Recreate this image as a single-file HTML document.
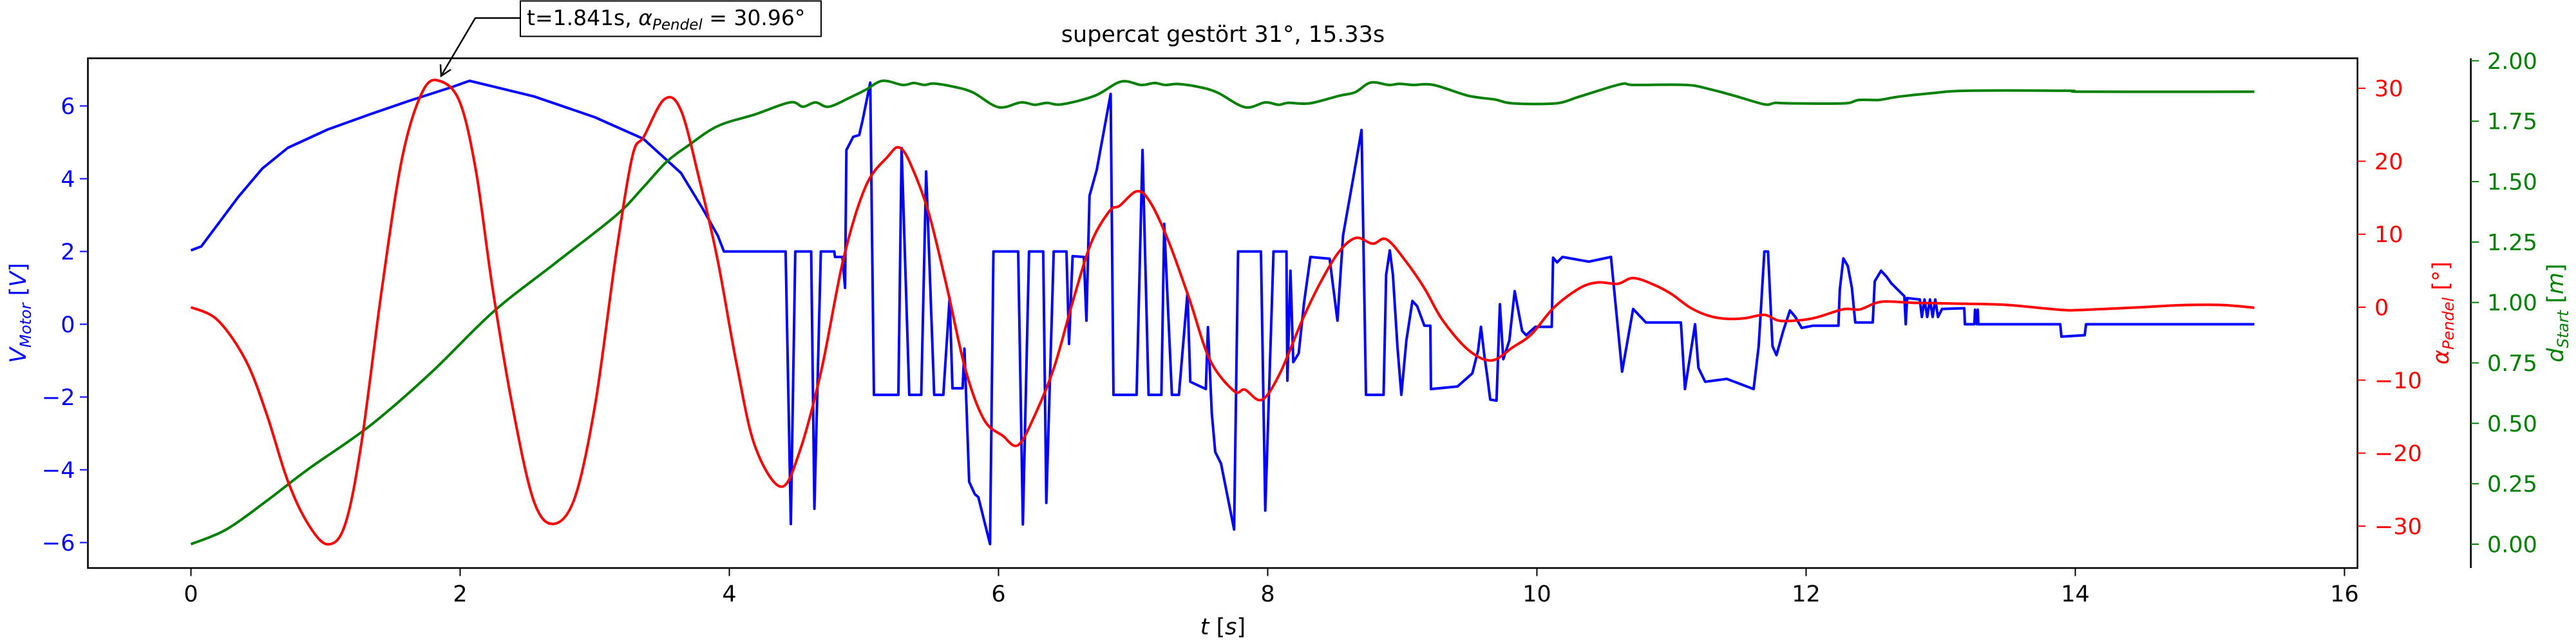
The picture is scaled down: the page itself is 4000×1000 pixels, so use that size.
<!DOCTYPE html>
<html><head><meta charset="utf-8">
<style>
html,body{margin:0;padding:0;background:#fff;}
svg{display:block;}
text{font-family:"DejaVu Sans","Liberation Sans",sans-serif;}
</style></head>
<body>
<svg id="chart" width="4000" height="1000" viewBox="0 0 4000 1000" xmlns="http://www.w3.org/2000/svg">
<rect x="0" y="0" width="4000" height="1000" fill="#fff"/>
<text x="1899" y="65" font-size="35" text-anchor="middle">supercat gestört 31°, 15.33s</text>
<g id="plot"></g>
<g id="axes"></g>
</svg>
<script>
// ---- data ----
const blueT = [
 0,0.077,0.168,0.35,0.53,0.72,1.02,1.33,1.63,1.94,2.07,2.55,3.0,3.36,3.64,3.805,3.915,3.96,
 4.418,4.457,4.49,4.608,4.632,4.68,4.78,4.785,4.84,4.86,4.87,4.92,4.965,4.99,5.047,5.074,
 5.256,5.28,5.337,5.426,5.462,5.522,5.59,5.637,5.658,5.733,5.747,5.782,5.824,5.85,5.937,5.962,
 6.146,6.181,6.227,6.332,6.355,6.41,6.505,6.524,6.55,6.634,6.653,6.676,6.73,6.833,6.854,
 7.026,7.07,7.115,7.21,7.231,7.288,7.34,7.404,7.425,7.54,7.556,7.584,7.61,7.653,7.75,7.78,
 7.95,7.982,8.043,8.139,8.146,8.169,8.19,8.23,8.27,8.317,8.46,8.518,8.56,8.642,8.697,8.73,
 8.861,8.88,8.907,8.93,8.964,8.993,9.03,9.075,9.11,9.164,9.208,9.213,9.41,9.52,9.563,9.584,9.61,9.63,9.653,9.7,9.725,9.75,9.795,9.835,9.89,9.92,9.988,
 10.11,10.12,10.15,10.19,10.385,10.55,10.633,10.715,10.81,11.07,11.1,11.175,11.2,11.25,11.41,11.61,11.648,11.69,11.717,11.75,11.78,11.83,11.88,11.92,11.967,12.05,12.24,
 12.25,12.277,12.31,12.34,12.365,12.495,12.51,12.557,12.6,12.632,12.73,12.74,12.75,12.845,12.86,12.88,12.9,12.92,12.94,12.96,12.98,13.01,13.175,13.18,13.25,13.255,13.27,13.275,13.28,13.888,13.897,14.07,14.08,15.33];
const blueV = [
 2.03,2.14,2.59,3.49,4.28,4.85,5.36,5.77,6.15,6.52,6.69,6.26,5.69,5.1,4.16,3.16,2.43,2.0,
 2.0,-5.49,2.0,2.0,-5.07,2.0,2.0,1.85,1.85,1.0,4.79,5.15,5.2,5.6,6.64,-1.94,
 -1.94,4.84,-1.94,-1.94,4.2,-1.94,-1.94,0.73,-1.76,-1.76,-0.67,-4.33,-4.67,-4.75,-6.04,2.0,
 2.0,-5.5,2.0,2.0,-4.91,2.0,2.0,-0.54,1.87,1.85,0.1,3.53,4.25,6.33,-1.94,
 -1.94,4.79,-1.94,-1.94,2.76,-1.94,-1.94,0.86,-1.58,-1.78,-0.08,-2.43,-3.51,-3.83,-5.64,2.0,
 2.0,-5.12,2.0,2.0,-1.55,1.47,-1.04,-0.8,0.59,1.85,1.8,0.1,2.44,4.16,5.34,-1.94,
 -1.94,1.36,2.03,1.36,-0.63,-1.94,-0.45,0.64,0.5,-0.04,-0.04,-1.78,-1.71,-1.35,-0.72,-0.07,-0.87,-1.4,-2.07,-2.1,0.55,-0.96,-0.45,0.91,-0.18,-0.3,-0.07,
 -0.07,1.83,1.7,1.85,1.72,1.85,-1.3,0.42,0.05,0.05,-1.78,0.0,-1.2,-1.58,-1.5,-1.78,-0.6,2.0,2.0,-0.6,-0.85,-0.18,0.38,0.2,-0.1,-0.04,-0.04,
 0.95,1.81,1.6,1.0,0.05,0.05,1.18,1.47,1.3,1.13,0.77,0.0,0.72,0.68,0.2,0.68,0.2,0.68,0.2,0.68,0.2,0.42,0.44,0.0,0.0,0.4,0.0,0.4,0.0,0.0,-0.34,-0.3,0.0,0.0];
const redT = [0,0.2,0.41,0.565,0.717,0.87,1.016,1.145,1.266,1.42,1.572,1.725,1.855,2.0,2.12,2.24,2.395,2.548,2.695,2.854,3.006,3.158,3.28,3.366,3.517,3.64,3.777,3.915,4.053,4.19,4.382,4.52,4.684,4.849,5.014,5.18,5.26,5.342,5.48,5.618,5.755,5.892,6.03,6.146,6.277,6.414,6.552,6.69,6.826,6.9,7.03,7.13,7.266,7.42,7.57,7.75,7.83,7.955,8.09,8.256,8.395,8.53,8.655,8.78,8.883,9.026,9.164,9.3,9.493,9.663,9.82,9.96,10.125,10.317,10.455,10.6,10.715,10.866,11.0,11.14,11.28,11.415,11.55,11.69,11.8,11.95,12.077,12.28,12.4,12.557,12.8,13.146,13.5,13.888,14.07,14.52,14.8,15.1,15.33];
const redA = [0,-1.8,-7.4,-14.8,-23.7,-29.7,-32.5,-29.8,-18.7,2.7,20.7,29.7,30.96,28,18.4,2.7,-14.2,-26.6,-29.7,-26,-13,7.2,20.7,23.4,28.5,27,17.5,6.3,-7.7,-19,-24.6,-19.9,-8.6,6.7,16.6,20.7,21.9,19.8,13,2.6,-8.6,-15.4,-17.6,-18.9,-14.5,-8.2,0.8,8.9,13.2,13.9,15.9,14.3,8.9,1.0,-7.2,-11.5,-11.3,-12.7,-9.1,-1.8,3.5,7.6,9.5,8.7,9.3,6.3,2.6,-1.8,-5.9,-7.3,-5.5,-3.7,-0.07,2.6,3.4,3.2,4.0,3.1,1.8,-0.07,-1.2,-1.6,-1.5,-1.05,-1.85,-1.8,-1.4,-0.27,-0.3,0.74,0.6,0.48,0.3,-0.36,-0.36,0.03,0.29,0.29,-0.07];
const greenT = [0,0.26,0.565,0.87,1.33,1.785,2.243,2.7,3.158,3.366,3.53,3.696,3.915,4.19,4.45,4.547,4.64,4.74,4.904,5.014,5.138,5.288,5.37,5.45,5.52,5.672,5.81,6.0,6.167,6.27,6.36,6.47,6.715,6.91,7.06,7.16,7.24,7.33,7.485,7.625,7.83,7.982,8.08,8.15,8.31,8.53,8.65,8.765,8.9,8.98,9.08,9.232,9.493,9.685,9.822,10.14,10.317,10.62,10.72,11.11,11.28,11.47,11.69,11.77,11.88,12.28,12.39,12.54,12.68,12.93,13.2,13.945,14.08,15.33];
const greenD = [0,0.06,0.18,0.31,0.49,0.71,0.96,1.16,1.36,1.48,1.58,1.65,1.73,1.778,1.828,1.81,1.828,1.81,1.85,1.88,1.917,1.9,1.908,1.9,1.906,1.892,1.869,1.808,1.828,1.818,1.826,1.82,1.855,1.914,1.9,1.908,1.9,1.904,1.892,1.869,1.808,1.828,1.818,1.826,1.824,1.855,1.87,1.91,1.9,1.905,1.9,1.9,1.855,1.84,1.824,1.824,1.852,1.903,1.9,1.9,1.883,1.855,1.82,1.826,1.824,1.824,1.838,1.838,1.851,1.866,1.876,1.876,1.872,1.872];
const xTicks = [0,2,4,6,8,10,12,14,16];
const vTicks = [-6,-4,-2,0,2,4,6];
const aTicks = [-30,-20,-10,0,10,20,30];
const dTicks = [0,0.25,0.5,0.75,1.0,1.25,1.5,1.75,2.0];
const dTickLabels = ["0.00","0.25","0.50","0.75","1.00","1.25","1.50","1.75","2.00"];

// ---- axis functions ----
const L=136.5,R=3660.7,T=90.5,B=882;
const sx = t => 296.5 + t*209.0;
const sv = v => 503.5 - v*56.5;
const sa = a => 477 - a*11.33;
const sd = d => 845 - d*375.3;

const NS="http://www.w3.org/2000/svg";
const plot=document.getElementById('plot');
const axes=document.getElementById('axes');
function mk(tag,attrs,parent){const e=document.createElementNS(NS,tag);for(const k in attrs)e.setAttribute(k,attrs[k]);parent.appendChild(e);return e;}

const defs=mk('defs',{},plot);
const cp=mk('clipPath',{id:'clip'},defs);
mk('rect',{x:L,y:T,width:R-L,height:B-T},cp);

function pathLinear(ts,vs,fy){
  let d='';
  const n=Math.min(ts.length,vs.length);
  for(let i=0;i<n;i++){d+=(i?'L':'M')+sx(ts[i]).toFixed(1)+' '+fy(vs[i]).toFixed(1);}
  return d;
}
function pathSmooth(ts,vs,fy){
  const n=Math.min(ts.length,vs.length);
  const P=[];for(let i=0;i<n;i++)P.push([sx(ts[i]),fy(vs[i])]);
  let d='M'+P[0][0].toFixed(1)+' '+P[0][1].toFixed(1);
  for(let i=0;i<n-1;i++){
    const p0=P[Math.max(0,i-1)],p1=P[i],p2=P[i+1],p3=P[Math.min(n-1,i+2)];
    const c1=[p1[0]+(p2[0]-p0[0])/6,p1[1]+(p2[1]-p0[1])/6];
    const c2=[p2[0]-(p3[0]-p1[0])/6,p2[1]-(p3[1]-p1[1])/6];
    d+='C'+c1[0].toFixed(1)+' '+c1[1].toFixed(1)+' '+c2[0].toFixed(1)+' '+c2[1].toFixed(1)+' '+p2[0].toFixed(1)+' '+p2[1].toFixed(1);
  }
  return d;
}
function line(d,color,name){
  const p=mk('path',{d:d,fill:'none',stroke:color,'stroke-width':4,'stroke-linejoin':'round','clip-path':'url(#clip)'},plot);
  
  
}
line(pathLinear(blueT,blueV,sv),'#0000ff','v-motor-line');
line(pathSmooth(greenT,greenD,sd),'#008000','d-start-line');
line(pathSmooth(redT,redA,sa),'#ff0000','alpha-pendel-line');

const frame=mk('rect',{x:L,y:T,width:R-L,height:B-T,fill:'none',stroke:'#000','stroke-width':2.6},axes);


const gsp=mk('line',{x1:3836.7,x2:3836.7,y1:T,y2:B,stroke:'#000','stroke-width':2.6},axes);



function txt(x,y,s,attrs,name){const e=mk('text',Object.assign({x:x,y:y},attrs),axes);e.textContent=s;return e;}

xTicks.forEach(t=>{
  const x=sx(t);
  const tk=mk('line',{x1:x,x2:x,y1:B,y2:B+12.5,stroke:'#000','stroke-width':2},axes);
  
  
  txt(x,934,String(t),{'font-size':35,'text-anchor':'middle',fill:'#000'},'x-tick-label');
});
vTicks.forEach(v=>{
  const y=sv(v);
  const tk=mk('line',{x1:L-12.5,x2:L,y1:y,y2:y,stroke:'#0000ff','stroke-width':2},axes);
  
  
  txt(L-20,y+12.5,(v<0?'\u2212':'')+Math.abs(v),{'font-size':35,'text-anchor':'end',fill:'#0000ff'},'v-tick-label');
});
aTicks.forEach(a=>{
  const y=sa(a);
  const tk=mk('line',{x1:R,x2:R+12.5,y1:y,y2:y,stroke:'#ff0000','stroke-width':2},axes);
  
  
  txt(3687,y+12.5,(a<0?'\u2212':'')+Math.abs(a),{'font-size':35,'text-anchor':'start',fill:'#ff0000'},'alpha-tick-label');
});
dTicks.forEach((d,i)=>{
  const y=sd(d);
  const tk=mk('line',{x1:3836.7,x2:3849.2,y1:y,y2:y,stroke:'#008000','stroke-width':2},axes);
  
  
  txt(3862,y+12.5,dTickLabels[i],{'font-size':35,'text-anchor':'start',fill:'#008000'},'d-tick-label');
});
</script>
<svg style="position:absolute;left:0;top:0" width="4000" height="1000" viewBox="0 0 4000 1000" xmlns="http://www.w3.org/2000/svg">
<text x="1899" y="985" font-size="35" text-anchor="middle" font-family="DejaVu Sans, sans-serif"><tspan font-style="italic">t</tspan> [<tspan font-style="italic">s</tspan>]</text>
<text transform="translate(40,486) rotate(-90)" font-size="35" text-anchor="middle" fill="#0000ff" font-family="DejaVu Sans, sans-serif"><tspan font-style="italic">V</tspan><tspan font-style="italic" font-size="24" dy="8">Motor</tspan><tspan dy="-8"> [</tspan><tspan font-style="italic">V</tspan>]</text>
<text transform="translate(3802,486) rotate(-90)" font-size="35" text-anchor="middle" fill="#ff0000" font-family="DejaVu Sans, sans-serif"><tspan font-style="italic">α</tspan><tspan font-style="italic" font-size="24" dy="8">Pendel</tspan><tspan dy="-8"> [°]</tspan></text>
<text transform="translate(3980,486) rotate(-90)" font-size="35" text-anchor="middle" fill="#008000" font-family="DejaVu Sans, sans-serif"><tspan font-style="italic">d</tspan><tspan font-style="italic" font-size="24" dy="8">Start</tspan><tspan dy="-8"> [</tspan><tspan font-style="italic">m</tspan>]</text>
<g>
<rect x="808" y="1.5" width="467" height="55" fill="#fff" stroke="#000" stroke-width="2"/>
<text x="818" y="39" font-size="33" font-family="DejaVu Sans, sans-serif">t=1.841s, <tspan font-style="italic">α</tspan><tspan font-style="italic" font-size="23" dy="7">Pendel</tspan><tspan dy="-7"> = 30.96°</tspan></text>
<polyline points="808,28 738,28 686,116" fill="none" stroke="#000" stroke-width="2.5"/>
<polyline points="684,100 685,118 700,108" fill="none" stroke="#000" stroke-width="2.5"/>
</g>
</svg>
</body></html>
